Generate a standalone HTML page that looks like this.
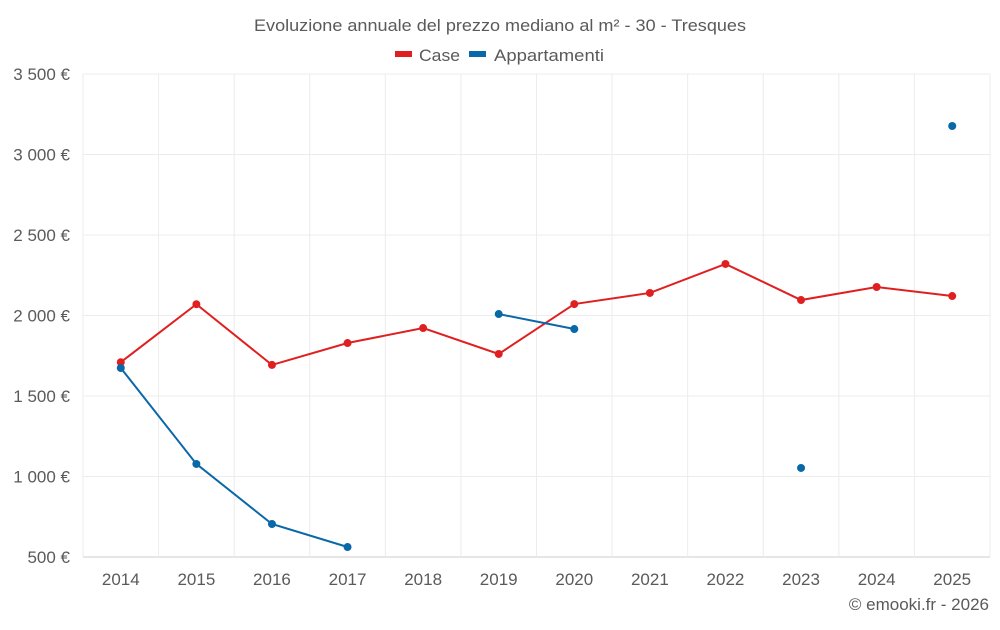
<!DOCTYPE html>
<html><head><meta charset="utf-8"><style>
body{margin:0;background:#fff;font-family:"Liberation Sans",sans-serif;}
svg text{font-family:"Liberation Sans",sans-serif;fill:#5a5a5a;}
</style></head><body>
<svg id="chart" width="1000" height="625" xmlns="http://www.w3.org/2000/svg">
<text x="500" y="31" text-anchor="middle" font-size="17" textLength="492" lengthAdjust="spacingAndGlyphs">Evoluzione annuale del prezzo mediano al m² - 30 - Tresques</text>
<g>
<g><rect x="395" y="51" width="17" height="6" fill="#e02020"/><text x="419" y="61" font-size="17" textLength="41" lengthAdjust="spacingAndGlyphs">Case</text></g>
<g><rect x="469" y="51" width="17" height="6" fill="#0868a8"/><text x="494" y="61" font-size="17" textLength="110" lengthAdjust="spacingAndGlyphs">Appartamenti</text></g>
</g>
<g id="grid"></g><g id="axes"></g><g id="series"></g>
<text x="989" y="610" text-anchor="end" font-size="17">© emooki.fr - 2026</text>
</svg>
<script>
const years=[2014,2015,2016,2017,2018,2019,2020,2021,2022,2023,2024,2025];
const caseValues=[1710,2070,1693,1829,1922,1761,2071,2140,2320,2096,2177,2121];
const apptValues=[1674,1078,705,562,null,2009,1916,null,null,1053,null,3177];
const yTicks=[500,1000,1500,2000,2500,3000,3500];
const yTickLabels=["500 €","1 000 €","1 500 €","2 000 €","2 500 €","3 000 €","3 500 €"];
const L=83,R=990,T=74,B=557,NS="http://www.w3.org/2000/svg";
const bw=(R-L)/years.length;
const x=i=>L+bw*(i+0.5);
const y=v=>B-(v-500)/3000*(B-T);
function mk(t,a,p){const e=document.createElementNS(NS,t);for(const k in a)e.setAttribute(k,a[k]);p.appendChild(e);return e;}
const grid=document.getElementById('grid'),axes=document.getElementById('axes'),ser=document.getElementById('series');
yTicks.forEach((v,i)=>{
 const l=mk('line',{x1:L,x2:R,y1:y(v),y2:y(v),stroke:i==0?'#ccc':'#ececec'},grid);
 
 
 const t=mk('text',{x:70,y:y(v)+6,'text-anchor':'end','font-size':17},axes);t.textContent=yTickLabels[i];
 
 
});
for(let i=0;i<=years.length;i++){
 const l=mk('line',{x1:L+bw*i,x2:L+bw*i,y1:T,y2:B,stroke:'#ececec'},grid);
 
 
}
years.forEach((yr,i)=>{
 const t=mk('text',{x:x(i),y:585,'text-anchor':'middle','font-size':17},axes);t.textContent=yr;
 
 
});
function draw(vals,color,name){
 let seg=[];const segs=[];
 vals.forEach((v,i)=>{if(v==null){if(seg.length)segs.push(seg);seg=[];}else seg.push([x(i),y(v)]);});
 if(seg.length)segs.push(seg);
 segs.forEach(s=>{if(s.length>1){const p=mk('polyline',{points:s.map(q=>q.join(',')).join(' '),fill:'none',stroke:color,'stroke-width':2},ser);
 
 }});
 vals.forEach((v,i)=>{if(v==null)return;const c=mk('circle',{cx:x(i),cy:y(v),r:4,fill:color},ser);
 
 });
}
draw(caseValues,'#e02020','case');
draw(apptValues,'#0868a8','appartamenti');
</script>
</body></html>
